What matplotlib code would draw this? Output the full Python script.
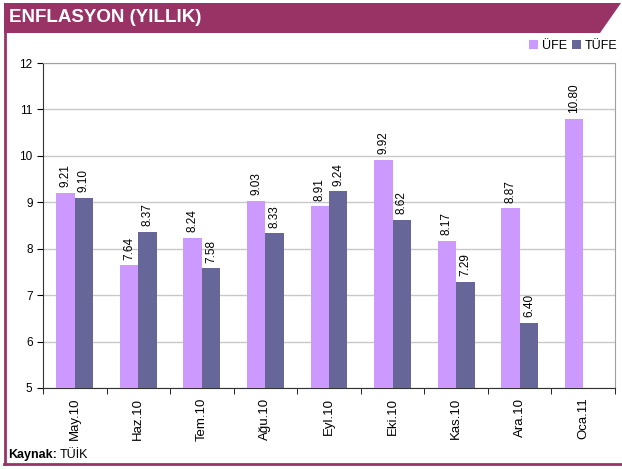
import numpy as np
import matplotlib
matplotlib.use('Agg')
import matplotlib.pyplot as plt
from matplotlib.patches import Polygon
from matplotlib.lines import Line2D

plt.rcParams['font.family'] = ['Liberation Sans', 'DejaVu Sans']

months = ['May.10', 'Haz.10', 'Tem.10', 'Ağu.10', 'Eyl.10',
          'Eki.10', 'Kas.10', 'Ara.10', 'Oca.11']
ufe = [9.21, 7.64, 8.24, 9.03, 8.91, 9.92, 8.17, 8.87, 10.80]
tufe = [9.10, 8.37, 7.58, 8.33, 9.24, 8.62, 7.29, 6.40, np.nan]

c_ufe = '#CC99FF'
c_tufe = '#666699'
c_head = '#993366'

W, H = 622, 469
fig = plt.figure(figsize=(W / 100, H / 100), dpi=100)


def fx(px):
    return px / W


def fy(py):
    return 1 - py / H


# header band with slanted right end
head = Polygon([(fx(4), fy(3)), (fx(621), fy(3)), (fx(600), fy(33)),
                (fx(4), fy(33))], closed=True, transform=fig.transFigure,
               facecolor=c_head, edgecolor='none')
fig.patches.append(head)
fig.text(fx(9), fy(18), 'ENFLASYON (YILLIK)', color='white',
         fontsize=13.5, fontweight='bold', va='center', ha='left')

# frame lines left and bottom
fig.add_artist(Line2D([fx(5), fx(5)], [fy(33), fy(464)],
                      transform=fig.transFigure, color=c_head, lw=2))
fig.add_artist(Line2D([fx(4), fx(622)], [fy(464), fy(464)],
                      transform=fig.transFigure, color=c_head, lw=2))

ax = fig.add_axes([fx(43), fy(388), fx(615) - fx(43), fy(63) - fy(388)])
x = np.arange(len(months))
bw = 0.29
b1 = ax.bar(x - bw / 2, ufe, bw, color=c_ufe, label='ÜFE', zorder=3)
b2 = ax.bar(x + bw / 2, tufe, bw, color=c_tufe, label='TÜFE', zorder=3)

for bars, vals in ((b1, ufe), (b2, tufe)):
    for r, v in zip(bars, vals):
        if np.isnan(v):
            continue
        ax.text(r.get_x() + r.get_width() / 2, v + 0.12, '%.2f' % v,
                rotation=90, ha='center', va='bottom', fontsize=8.5)

ax.set_xlim(-0.5, len(months) - 0.5)
ax.set_ylim(5, 12)
ax.set_yticks(range(5, 13))
ax.yaxis.grid(True, color='#c8c8c8', lw=1, zorder=0)
ax.set_xticks(x)
ax.set_xticklabels(months, rotation=90, fontsize=9.5)
ax.set_xticks(np.arange(-0.5, len(months)), minor=True)
ax.tick_params(axis='x', which='major', length=0, pad=7)
ax.tick_params(axis='x', which='minor', length=4, direction='out')
ax.tick_params(axis='y', labelsize=8.5, length=4, direction='out')
for s in ('top', 'right'):
    ax.spines[s].set_color('#a0a0a0')
for s in ('left', 'bottom'):
    ax.spines[s].set_color('#333333')

fig.legend(handles=[b1, b2], loc='center right',
           bbox_to_anchor=(fx(622), fy(46)), ncol=2, frameon=False,
           fontsize=9, handlelength=0.7, handleheight=0.7,
           handletextpad=0.3, columnspacing=0.4, borderaxespad=0)

t = fig.text(fx(8), fy(455), 'Kaynak:', fontsize=9, fontweight='bold',
             ha='left', va='center')
fig.canvas.draw()
bb = t.get_window_extent()
fig.text((bb.x1 + 3) / W, fy(455), 'TÜİK', fontsize=9,
         ha='left', va='center')

fig.savefig('out.png', dpi=100)
